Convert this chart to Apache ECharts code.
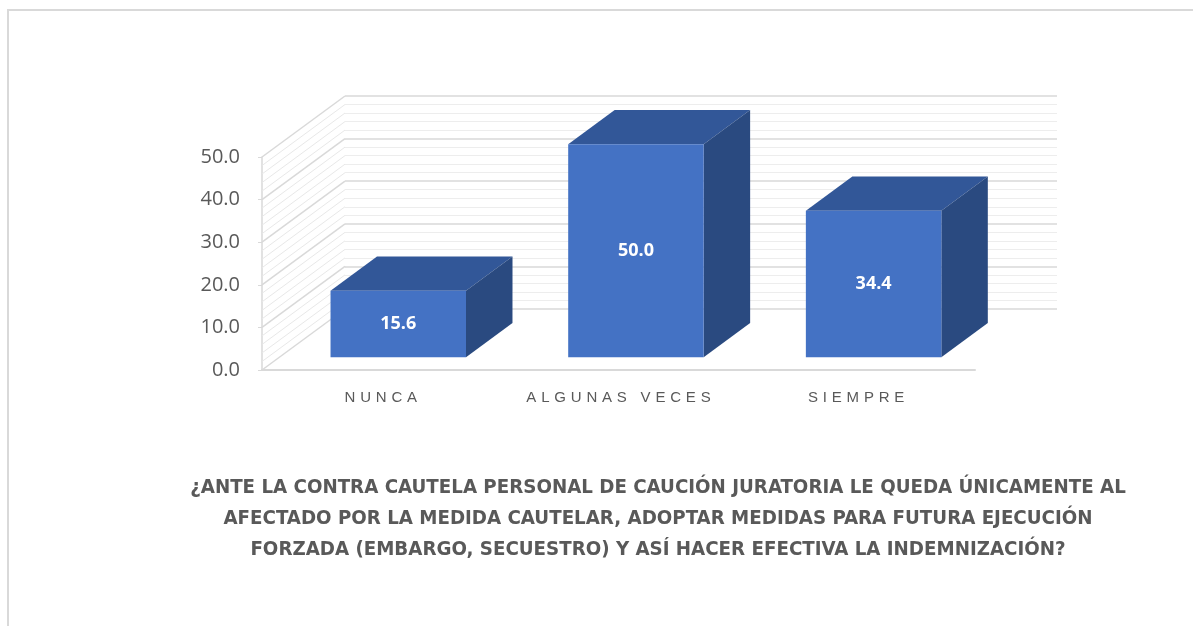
<!DOCTYPE html>
<html><head><meta charset="utf-8">
<script src="https://cdn.jsdelivr.net/npm/echarts@6/dist/echarts.min.js"></script>
<style>html,body{margin:0;padding:0;background:#fff}#chart{width:1193px;height:626px}</style>
</head><body><div id="chart"></div>
<script>
// ---- data ----
const categories = ['NUNCA', 'ALGUNAS VECES', 'SIEMPRE'];
const values = [15.6, 50.0, 34.4];
const yTickLabels = ['0.0', '10.0', '20.0', '30.0', '40.0', '50.0'];
const titleLines = [
  '¿ANTE LA CONTRA CAUTELA PERSONAL DE CAUCIÓN JURATORIA LE QUEDA ÚNICAMENTE AL',
  'AFECTADO POR LA MEDIDA CAUTELAR, ADOPTAR MEDIDAS PARA FUTURA EJECUCIÓN',
  'FORZADA (EMBARGO, SECUESTRO) Y ASÍ HACER EFECTIVA LA INDEMNIZACIÓN?'
];
const yMin = 0, yMax = 50, yStep = 10, yMinorStep = 2;

// ---- 3D look (pixels) ----
const DX = 83, DY = -61;          // depth vector front->back wall
const F0 = 0.21, F1 = 0.77;       // bar depth span (fraction of depth)
const BAR_W = 0.57;               // bar width as fraction of category
const C_FRONT = '#4472C4', C_TOP = '#325798', C_SIDE = '#2A4A80';
const TXT = '#595959';
const LS = 4.8;                   // letter spacing of category labels

// letter-spaced category labels (canvas letterSpacing), all other text unspaced
const spaced = new Set(categories);
const origFill = CanvasRenderingContext2D.prototype.fillText;
CanvasRenderingContext2D.prototype.fillText = function (t, x, y, m) {
  const sp = spaced.has(t);
  let shift = 0;
  if ('letterSpacing' in this) {
    this.letterSpacing = sp ? LS + 'px' : '0px';
    if (sp) shift = LS / 2;
  }
  const r = m === undefined ? origFill.call(this, t, x + shift, y) : origFill.call(this, t, x + shift, y, m);
  if ('letterSpacing' in this) this.letterSpacing = '0px';
  return r;
};

const chart = echarts.init(document.getElementById('chart'), null, { renderer: 'canvas' });

const option = {
  backgroundColor: '#fff',
  animation: false,
  title: {
    text: titleLines.join('\n'),
    left: 653, top: 467, textAlign: 'center',
    textStyle: { color: TXT, fontFamily: '"Liberation Sans Narrow", "DejaVu Sans Condensed", sans-serif', fontWeight: 'bold', fontSize: 20.3, lineHeight: 31 }
  },
  graphic: [{
    type: 'rect', silent: true, z: -10,
    shape: { x: 8, y: 10, width: 1400, height: 800 },
    style: { fill: 'none', stroke: '#d9d9d9', lineWidth: 2 }
  }],
  grid: [
    { left: 262, top: 157, width: 713, height: 213 },   // front plane
    { left: 345, top: 96, width: 712, height: 213 }     // back wall
  ],
  xAxis: [
    {
      type: 'category', gridIndex: 0, data: categories,
      axisLine: { show: true, lineStyle: { color: '#d9d9d9', width: 2 } },
      axisTick: { show: false },
      axisLabel: { color: TXT, fontFamily: '"Liberation Sans", sans-serif', fontSize: 15, margin: 20 }
    },
    {
      type: 'category', gridIndex: 1, data: categories,
      axisLine: { show: false }, axisTick: { show: false }, axisLabel: { show: false }
    }
  ],
  yAxis: [
    {
      type: 'value', gridIndex: 0, min: yMin, max: yMax, interval: yStep,
      axisLine: { show: true, lineStyle: { color: '#d9d9d9', width: 1.5 } },
      axisTick: { show: true, length: 4, lineStyle: { color: '#d9d9d9' } },
      splitLine: { show: false },
      axisLabel: {
        color: TXT, fontFamily: '"Open Sans", sans-serif', fontSize: 20, margin: 22,
        formatter: v => yTickLabels[Math.round((v - yMin) / yStep)]
      }
    },
    {
      type: 'value', gridIndex: 1, min: yMin, max: yMax, interval: yStep,
      axisLine: { show: false }, axisTick: { show: false }, axisLabel: { show: false },
      splitLine: { show: true, lineStyle: { color: '#d9d9d9', width: 1.5 } },
      minorTick: { show: false, splitNumber: yStep / yMinorStep },
      minorSplitLine: { show: true, lineStyle: { color: '#ededed', width: 1 } }
    }
  ],
  series: [
    {
      // side wall diagonals
      type: 'custom', xAxisIndex: 0, yAxisIndex: 0, clip: false, silent: true, z: 1,
      data: [[0, yMax]],
      renderItem: function (params, api) {
        const x0 = params.coordSys.x;
        const children = [];
        for (let v = yMin; v <= yMax + 1e-9; v += yMinorStep) {
          const y = api.coord([0, v])[1];
          const major = Math.abs(v % yStep) < 1e-9;
          children.push({
            type: 'line',
            shape: { x1: x0, y1: y, x2: x0 + DX, y2: y + DY },
            style: { stroke: major ? '#d9d9d9' : '#e8e8e8', lineWidth: major ? 1.5 : 1 }
          });
        }
        return { type: 'group', children };
      }
    },
    {
      // 3D bars
      type: 'custom', xAxisIndex: 0, yAxisIndex: 0, clip: false, z: 5,
      data: values.map((v, i) => [i, v]),
      renderItem: function (params, api) {
        const i = api.value(0), v = api.value(1);
        const base = api.coord([i, 0]);
        const top = api.coord([i, v]);
        const w = api.size([1, 0])[0] * BAR_W;
        const ox = F0 * DX, oy = F0 * DY;
        const dx = (F1 - F0) * DX, dy = (F1 - F0) * DY;
        const xl = base[0] + ox - w / 2, xr = base[0] + ox + w / 2;
        const yt = top[1] + oy, yb = base[1] + oy;
        return {
          type: 'group',
          children: [
            { type: 'polygon', shape: { points: [[xl, yt], [xr, yt], [xr + dx, yt + dy], [xl + dx, yt + dy]] }, style: { fill: C_TOP } },
            { type: 'polygon', shape: { points: [[xr, yt], [xr, yb], [xr + dx, yb + dy], [xr + dx, yt + dy]] }, style: { fill: C_SIDE } },
            { type: 'rect', shape: { x: xl, y: yt, width: w, height: yb - yt }, style: { fill: C_FRONT } },
            {
              type: 'text',
              style: {
                text: v.toFixed(1), x: (xl + xr) / 2, y: (yt + yb) / 2,
                align: 'center', verticalAlign: 'middle',
                fill: '#fff', font: 'bold 18px "Open Sans", sans-serif'
              }
            }
          ]
        };
      }
    }
  ]
};
chart.setOption(option);
</script>
</body></html>
